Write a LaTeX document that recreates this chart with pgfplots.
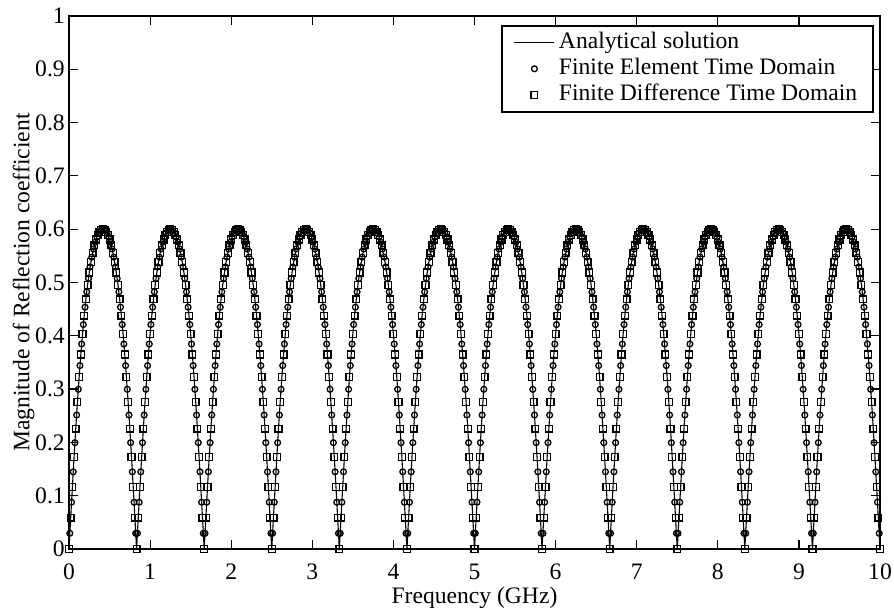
\documentclass[border=0pt]{standalone}
\usepackage{fontspec}
\setmainfont{Liberation Serif}
\usepackage{pgfplots}
\usepackage{pgfplotstable}
\pgfplotsset{compat=1.18}

% Analytical solution / FDTD samples (f in GHz, |Gamma|)
\pgfplotstableread[row sep=\\]{
x y\\
0 0\\ 0.021 0.0587\\ 0.042 0.1165\\ 0.0625 0.1725\\ 0.083 0.2258\\ 0.104 0.2759\\ 0.125 0.3223\\ 0.146 0.3649\\
0.167 0.4034\\ 0.1875 0.4379\\ 0.208 0.4685\\ 0.229 0.4954\\ 0.25 0.5187\\ 0.271 0.5387\\ 0.292 0.5556\\ 0.3125 0.5695\\
0.333 0.5807\\ 0.354 0.5892\\ 0.375 0.5952\\ 0.396 0.5988\\ 0.417 0.6\\ 0.4375 0.5988\\ 0.458 0.5952\\ 0.479 0.5892\\
0.5 0.5807\\ 0.521 0.5695\\ 0.542 0.5556\\ 0.5625 0.5387\\ 0.583 0.5187\\ 0.604 0.4954\\ 0.625 0.4685\\ 0.646 0.4379\\
0.667 0.4034\\ 0.6875 0.3649\\ 0.708 0.3223\\ 0.729 0.2759\\ 0.75 0.2258\\ 0.771 0.1725\\ 0.792 0.1165\\ 0.8125 0.0587\\
0.833 0\\ 0.854 0.0587\\ 0.875 0.1165\\ 0.896 0.1725\\ 0.917 0.2258\\ 0.9375 0.2759\\ 0.958 0.3223\\ 0.979 0.3649\\
1.000 0.4034\\ 1.021 0.4379\\ 1.042 0.4685\\ 1.0625 0.4954\\ 1.083 0.5187\\ 1.104 0.5387\\ 1.125 0.5556\\ 1.146 0.5695\\
1.167 0.5807\\ 1.1875 0.5892\\ 1.208 0.5952\\ 1.229 0.5988\\ 1.25 0.6\\ 1.271 0.5988\\ 1.292 0.5952\\ 1.3125 0.5892\\
1.333 0.5807\\ 1.354 0.5695\\ 1.375 0.5556\\ 1.396 0.5387\\ 1.417 0.5187\\ 1.4375 0.4954\\ 1.458 0.4685\\ 1.479 0.4379\\
1.5 0.4034\\ 1.521 0.3649\\ 1.542 0.3223\\ 1.5625 0.2759\\ 1.583 0.2258\\ 1.604 0.1725\\ 1.625 0.1165\\ 1.646 0.0587\\
1.667 0\\ 1.6875 0.0587\\ 1.708 0.1165\\ 1.729 0.1725\\ 1.75 0.2258\\ 1.771 0.2759\\ 1.792 0.3223\\ 1.8125 0.3649\\
1.833 0.4034\\ 1.854 0.4379\\ 1.875 0.4685\\ 1.896 0.4954\\ 1.917 0.5187\\ 1.9375 0.5387\\ 1.958 0.5556\\ 1.979 0.5695\\
2.000 0.5807\\ 2.021 0.5892\\ 2.042 0.5952\\ 2.0625 0.5988\\ 2.083 0.6\\ 2.104 0.5988\\ 2.125 0.5952\\ 2.146 0.5892\\
2.167 0.5807\\ 2.1875 0.5695\\ 2.208 0.5556\\ 2.229 0.5387\\ 2.25 0.5187\\ 2.271 0.4954\\ 2.292 0.4685\\ 2.3125 0.4379\\
2.333 0.4034\\ 2.354 0.3649\\ 2.375 0.3223\\ 2.396 0.2759\\ 2.417 0.2258\\ 2.4375 0.1725\\ 2.458 0.1165\\ 2.479 0.0587\\
2.5 0\\ 2.521 0.0587\\ 2.542 0.1165\\ 2.5625 0.1725\\ 2.583 0.2258\\ 2.604 0.2759\\ 2.625 0.3223\\ 2.646 0.3649\\
2.667 0.4034\\ 2.6875 0.4379\\ 2.708 0.4685\\ 2.729 0.4954\\ 2.75 0.5187\\ 2.771 0.5387\\ 2.792 0.5556\\ 2.8125 0.5695\\
2.833 0.5807\\ 2.854 0.5892\\ 2.875 0.5952\\ 2.896 0.5988\\ 2.917 0.6\\ 2.9375 0.5988\\ 2.958 0.5952\\ 2.979 0.5892\\
3.000 0.5807\\ 3.021 0.5695\\ 3.042 0.5556\\ 3.0625 0.5387\\ 3.083 0.5187\\ 3.104 0.4954\\ 3.125 0.4685\\ 3.146 0.4379\\
3.167 0.4034\\ 3.1875 0.3649\\ 3.208 0.3223\\ 3.229 0.2759\\ 3.25 0.2258\\ 3.271 0.1725\\ 3.292 0.1165\\ 3.3125 0.0587\\
3.333 0\\ 3.354 0.0587\\ 3.375 0.1165\\ 3.396 0.1725\\ 3.417 0.2258\\ 3.4375 0.2759\\ 3.458 0.3223\\ 3.479 0.3649\\
3.5 0.4034\\ 3.521 0.4379\\ 3.542 0.4685\\ 3.5625 0.4954\\ 3.583 0.5187\\ 3.604 0.5387\\ 3.625 0.5556\\ 3.646 0.5695\\
3.667 0.5807\\ 3.6875 0.5892\\ 3.708 0.5952\\ 3.729 0.5988\\ 3.75 0.6\\ 3.771 0.5988\\ 3.792 0.5952\\ 3.8125 0.5892\\
3.833 0.5807\\ 3.854 0.5695\\ 3.875 0.5556\\ 3.896 0.5387\\ 3.917 0.5187\\ 3.9375 0.4954\\ 3.958 0.4685\\ 3.979 0.4379\\
4.000 0.4034\\ 4.021 0.3649\\ 4.042 0.3223\\ 4.0625 0.2759\\ 4.083 0.2258\\ 4.104 0.1725\\ 4.125 0.1165\\ 4.146 0.0587\\
4.167 0\\ 4.1875 0.0587\\ 4.208 0.1165\\ 4.229 0.1725\\ 4.25 0.2258\\ 4.271 0.2759\\ 4.292 0.3223\\ 4.3125 0.3649\\
4.333 0.4034\\ 4.354 0.4379\\ 4.375 0.4685\\ 4.396 0.4954\\ 4.417 0.5187\\ 4.4375 0.5387\\ 4.458 0.5556\\ 4.479 0.5695\\
4.5 0.5807\\ 4.521 0.5892\\ 4.542 0.5952\\ 4.5625 0.5988\\ 4.583 0.6\\ 4.604 0.5988\\ 4.625 0.5952\\ 4.646 0.5892\\
4.667 0.5807\\ 4.6875 0.5695\\ 4.708 0.5556\\ 4.729 0.5387\\ 4.75 0.5187\\ 4.771 0.4954\\ 4.792 0.4685\\ 4.8125 0.4379\\
4.833 0.4034\\ 4.854 0.3649\\ 4.875 0.3223\\ 4.896 0.2759\\ 4.917 0.2258\\ 4.9375 0.1725\\ 4.958 0.1165\\ 4.979 0.0587\\
5 0\\ 5.021 0.0587\\ 5.042 0.1165\\ 5.0625 0.1725\\ 5.083 0.2258\\ 5.104 0.2759\\ 5.125 0.3223\\ 5.146 0.3649\\
5.167 0.4034\\ 5.1875 0.4379\\ 5.208 0.4685\\ 5.229 0.4954\\ 5.25 0.5187\\ 5.271 0.5387\\ 5.292 0.5556\\ 5.3125 0.5695\\
5.333 0.5807\\ 5.354 0.5892\\ 5.375 0.5952\\ 5.396 0.5988\\ 5.417 0.6\\ 5.4375 0.5988\\ 5.458 0.5952\\ 5.479 0.5892\\
5.5 0.5807\\ 5.521 0.5695\\ 5.542 0.5556\\ 5.5625 0.5387\\ 5.583 0.5187\\ 5.604 0.4954\\ 5.625 0.4685\\ 5.646 0.4379\\
5.667 0.4034\\ 5.6875 0.3649\\ 5.708 0.3223\\ 5.729 0.2759\\ 5.75 0.2258\\ 5.771 0.1725\\ 5.792 0.1165\\ 5.8125 0.0587\\
5.833 0\\ 5.854 0.0587\\ 5.875 0.1165\\ 5.896 0.1725\\ 5.917 0.2258\\ 5.9375 0.2759\\ 5.958 0.3223\\ 5.979 0.3649\\
6.000 0.4034\\ 6.021 0.4379\\ 6.042 0.4685\\ 6.0625 0.4954\\ 6.083 0.5187\\ 6.104 0.5387\\ 6.125 0.5556\\ 6.146 0.5695\\
6.167 0.5807\\ 6.1875 0.5892\\ 6.208 0.5952\\ 6.229 0.5988\\ 6.25 0.6\\ 6.271 0.5988\\ 6.292 0.5952\\ 6.3125 0.5892\\
6.333 0.5807\\ 6.354 0.5695\\ 6.375 0.5556\\ 6.396 0.5387\\ 6.417 0.5187\\ 6.4375 0.4954\\ 6.458 0.4685\\ 6.479 0.4379\\
6.5 0.4034\\ 6.521 0.3649\\ 6.542 0.3223\\ 6.5625 0.2759\\ 6.583 0.2258\\ 6.604 0.1725\\ 6.625 0.1165\\ 6.646 0.0587\\
6.667 0\\ 6.6875 0.0587\\ 6.708 0.1165\\ 6.729 0.1725\\ 6.75 0.2258\\ 6.771 0.2759\\ 6.792 0.3223\\ 6.8125 0.3649\\
6.833 0.4034\\ 6.854 0.4379\\ 6.875 0.4685\\ 6.896 0.4954\\ 6.917 0.5187\\ 6.9375 0.5387\\ 6.958 0.5556\\ 6.979 0.5695\\
7.000 0.5807\\ 7.021 0.5892\\ 7.042 0.5952\\ 7.0625 0.5988\\ 7.083 0.6\\ 7.104 0.5988\\ 7.125 0.5952\\ 7.146 0.5892\\
7.167 0.5807\\ 7.1875 0.5695\\ 7.208 0.5556\\ 7.229 0.5387\\ 7.25 0.5187\\ 7.271 0.4954\\ 7.292 0.4685\\ 7.3125 0.4379\\
7.333 0.4034\\ 7.354 0.3649\\ 7.375 0.3223\\ 7.396 0.2759\\ 7.417 0.2258\\ 7.4375 0.1725\\ 7.458 0.1165\\ 7.479 0.0587\\
7.5 0\\ 7.521 0.0587\\ 7.542 0.1165\\ 7.5625 0.1725\\ 7.583 0.2258\\ 7.604 0.2759\\ 7.625 0.3223\\ 7.646 0.3649\\
7.667 0.4034\\ 7.6875 0.4379\\ 7.708 0.4685\\ 7.729 0.4954\\ 7.75 0.5187\\ 7.771 0.5387\\ 7.792 0.5556\\ 7.8125 0.5695\\
7.833 0.5807\\ 7.854 0.5892\\ 7.875 0.5952\\ 7.896 0.5988\\ 7.917 0.6\\ 7.9375 0.5988\\ 7.958 0.5952\\ 7.979 0.5892\\
8.000 0.5807\\ 8.021 0.5695\\ 8.042 0.5556\\ 8.0625 0.5387\\ 8.083 0.5187\\ 8.104 0.4954\\ 8.125 0.4685\\ 8.146 0.4379\\
8.167 0.4034\\ 8.1875 0.3649\\ 8.208 0.3223\\ 8.229 0.2759\\ 8.25 0.2258\\ 8.271 0.1725\\ 8.292 0.1165\\ 8.3125 0.0587\\
8.333 0\\ 8.354 0.0587\\ 8.375 0.1165\\ 8.396 0.1725\\ 8.417 0.2258\\ 8.4375 0.2759\\ 8.458 0.3223\\ 8.479 0.3649\\
8.5 0.4034\\ 8.521 0.4379\\ 8.542 0.4685\\ 8.5625 0.4954\\ 8.583 0.5187\\ 8.604 0.5387\\ 8.625 0.5556\\ 8.646 0.5695\\
8.667 0.5807\\ 8.6875 0.5892\\ 8.708 0.5952\\ 8.729 0.5988\\ 8.75 0.6\\ 8.771 0.5988\\ 8.792 0.5952\\ 8.8125 0.5892\\
8.833 0.5807\\ 8.854 0.5695\\ 8.875 0.5556\\ 8.896 0.5387\\ 8.917 0.5187\\ 8.9375 0.4954\\ 8.958 0.4685\\ 8.979 0.4379\\
9.000 0.4034\\ 9.021 0.3649\\ 9.042 0.3223\\ 9.0625 0.2759\\ 9.083 0.2258\\ 9.104 0.1725\\ 9.125 0.1165\\ 9.146 0.0587\\
9.167 0\\ 9.1875 0.0587\\ 9.208 0.1165\\ 9.229 0.1725\\ 9.25 0.2258\\ 9.271 0.2759\\ 9.292 0.3223\\ 9.3125 0.3649\\
9.333 0.4034\\ 9.354 0.4379\\ 9.375 0.4685\\ 9.396 0.4954\\ 9.417 0.5187\\ 9.4375 0.5387\\ 9.458 0.5556\\ 9.479 0.5695\\
9.5 0.5807\\ 9.521 0.5892\\ 9.542 0.5952\\ 9.5625 0.5988\\ 9.583 0.6\\ 9.604 0.5988\\ 9.625 0.5952\\ 9.646 0.5892\\
9.667 0.5807\\ 9.6875 0.5695\\ 9.708 0.5556\\ 9.729 0.5387\\ 9.75 0.5187\\ 9.771 0.4954\\ 9.792 0.4685\\ 9.8125 0.4379\\
9.833 0.4034\\ 9.854 0.3649\\ 9.875 0.3223\\ 9.896 0.2759\\ 9.917 0.2258\\ 9.9375 0.1725\\ 9.958 0.1165\\ 9.979 0.0587\\
10 0\\
}\sqtab

% FETD samples
\pgfplotstableread[row sep=\\]{
x y\\
0.010 0.0294\\ 0.031 0.0878\\ 0.052 0.1448\\ 0.073 0.1995\\ 0.094 0.2513\\ 0.115 0.2996\\ 0.135 0.3441\\ 0.156 0.3846\\
0.177 0.4211\\ 0.198 0.4537\\ 0.219 0.4824\\ 0.240 0.5075\\ 0.260 0.5291\\ 0.281 0.5476\\ 0.302 0.5629\\ 0.323 0.5755\\
0.344 0.5853\\ 0.365 0.5925\\ 0.385 0.5973\\ 0.406 0.5997\\ 0.427 0.5997\\ 0.448 0.5973\\ 0.469 0.5925\\ 0.490 0.5853\\
0.510 0.5755\\ 0.531 0.5629\\ 0.552 0.5476\\ 0.573 0.5291\\ 0.594 0.5075\\ 0.615 0.4824\\ 0.635 0.4537\\ 0.656 0.4211\\
0.677 0.3846\\ 0.698 0.3441\\ 0.719 0.2996\\ 0.740 0.2513\\ 0.760 0.1995\\ 0.781 0.1448\\ 0.802 0.0878\\ 0.823 0.0294\\
0.844 0.0294\\ 0.865 0.0878\\ 0.885 0.1448\\ 0.906 0.1995\\ 0.927 0.2513\\ 0.948 0.2996\\ 0.969 0.3441\\ 0.990 0.3846\\
1.010 0.4211\\ 1.031 0.4537\\ 1.052 0.4824\\ 1.073 0.5075\\ 1.094 0.5291\\ 1.115 0.5476\\ 1.135 0.5629\\ 1.156 0.5755\\
1.177 0.5853\\ 1.198 0.5925\\ 1.219 0.5973\\ 1.240 0.5997\\ 1.260 0.5997\\ 1.281 0.5973\\ 1.302 0.5925\\ 1.323 0.5853\\
1.344 0.5755\\ 1.365 0.5629\\ 1.385 0.5476\\ 1.406 0.5291\\ 1.427 0.5075\\ 1.448 0.4824\\ 1.469 0.4537\\ 1.490 0.4211\\
1.510 0.3846\\ 1.531 0.3441\\ 1.552 0.2996\\ 1.573 0.2513\\ 1.594 0.1995\\ 1.615 0.1448\\ 1.635 0.0878\\ 1.656 0.0294\\
1.677 0.0294\\ 1.698 0.0878\\ 1.719 0.1448\\ 1.740 0.1995\\ 1.760 0.2513\\ 1.781 0.2996\\ 1.802 0.3441\\ 1.823 0.3846\\
1.844 0.4211\\ 1.865 0.4537\\ 1.885 0.4824\\ 1.906 0.5075\\ 1.927 0.5291\\ 1.948 0.5476\\ 1.969 0.5629\\ 1.990 0.5755\\
2.010 0.5853\\ 2.031 0.5925\\ 2.052 0.5973\\ 2.073 0.5997\\ 2.094 0.5997\\ 2.115 0.5973\\ 2.135 0.5925\\ 2.156 0.5853\\
2.177 0.5755\\ 2.198 0.5629\\ 2.219 0.5476\\ 2.240 0.5291\\ 2.260 0.5075\\ 2.281 0.4824\\ 2.302 0.4537\\ 2.323 0.4211\\
2.344 0.3846\\ 2.365 0.3441\\ 2.385 0.2996\\ 2.406 0.2513\\ 2.427 0.1995\\ 2.448 0.1448\\ 2.469 0.0878\\ 2.490 0.0294\\
2.510 0.0294\\ 2.531 0.0878\\ 2.552 0.1448\\ 2.573 0.1995\\ 2.594 0.2513\\ 2.615 0.2996\\ 2.635 0.3441\\ 2.656 0.3846\\
2.677 0.4211\\ 2.698 0.4537\\ 2.719 0.4824\\ 2.740 0.5075\\ 2.760 0.5291\\ 2.781 0.5476\\ 2.802 0.5629\\ 2.823 0.5755\\
2.844 0.5853\\ 2.865 0.5925\\ 2.885 0.5973\\ 2.906 0.5997\\ 2.927 0.5997\\ 2.948 0.5973\\ 2.969 0.5925\\ 2.990 0.5853\\
3.010 0.5755\\ 3.031 0.5629\\ 3.052 0.5476\\ 3.073 0.5291\\ 3.094 0.5075\\ 3.115 0.4824\\ 3.135 0.4537\\ 3.156 0.4211\\
3.177 0.3846\\ 3.198 0.3441\\ 3.219 0.2996\\ 3.240 0.2513\\ 3.260 0.1995\\ 3.281 0.1448\\ 3.302 0.0878\\ 3.323 0.0294\\
3.344 0.0294\\ 3.365 0.0878\\ 3.385 0.1448\\ 3.406 0.1995\\ 3.427 0.2513\\ 3.448 0.2996\\ 3.469 0.3441\\ 3.490 0.3846\\
3.510 0.4211\\ 3.531 0.4537\\ 3.552 0.4824\\ 3.573 0.5075\\ 3.594 0.5291\\ 3.615 0.5476\\ 3.635 0.5629\\ 3.656 0.5755\\
3.677 0.5853\\ 3.698 0.5925\\ 3.719 0.5973\\ 3.740 0.5997\\ 3.760 0.5997\\ 3.781 0.5973\\ 3.802 0.5925\\ 3.823 0.5853\\
3.844 0.5755\\ 3.865 0.5629\\ 3.885 0.5476\\ 3.906 0.5291\\ 3.927 0.5075\\ 3.948 0.4824\\ 3.969 0.4537\\ 3.990 0.4211\\
4.010 0.3846\\ 4.031 0.3441\\ 4.052 0.2996\\ 4.073 0.2513\\ 4.094 0.1995\\ 4.115 0.1448\\ 4.135 0.0878\\ 4.156 0.0294\\
4.177 0.0294\\ 4.198 0.0878\\ 4.219 0.1448\\ 4.240 0.1995\\ 4.260 0.2513\\ 4.281 0.2996\\ 4.302 0.3441\\ 4.323 0.3846\\
4.344 0.4211\\ 4.365 0.4537\\ 4.385 0.4824\\ 4.406 0.5075\\ 4.427 0.5291\\ 4.448 0.5476\\ 4.469 0.5629\\ 4.490 0.5755\\
4.510 0.5853\\ 4.531 0.5925\\ 4.552 0.5973\\ 4.573 0.5997\\ 4.594 0.5997\\ 4.615 0.5973\\ 4.635 0.5925\\ 4.656 0.5853\\
4.677 0.5755\\ 4.698 0.5629\\ 4.719 0.5476\\ 4.740 0.5291\\ 4.760 0.5075\\ 4.781 0.4824\\ 4.802 0.4537\\ 4.823 0.4211\\
4.844 0.3846\\ 4.865 0.3441\\ 4.885 0.2996\\ 4.906 0.2513\\ 4.927 0.1995\\ 4.948 0.1448\\ 4.969 0.0878\\ 4.990 0.0294\\
5.010 0.0294\\ 5.031 0.0878\\ 5.052 0.1448\\ 5.073 0.1995\\ 5.094 0.2513\\ 5.115 0.2996\\ 5.135 0.3441\\ 5.156 0.3846\\
5.177 0.4211\\ 5.198 0.4537\\ 5.219 0.4824\\ 5.240 0.5075\\ 5.260 0.5291\\ 5.281 0.5476\\ 5.302 0.5629\\ 5.323 0.5755\\
5.344 0.5853\\ 5.365 0.5925\\ 5.385 0.5973\\ 5.406 0.5997\\ 5.427 0.5997\\ 5.448 0.5973\\ 5.469 0.5925\\ 5.490 0.5853\\
5.510 0.5755\\ 5.531 0.5629\\ 5.552 0.5476\\ 5.573 0.5291\\ 5.594 0.5075\\ 5.615 0.4824\\ 5.635 0.4537\\ 5.656 0.4211\\
5.677 0.3846\\ 5.698 0.3441\\ 5.719 0.2996\\ 5.740 0.2513\\ 5.760 0.1995\\ 5.781 0.1448\\ 5.802 0.0878\\ 5.823 0.0294\\
5.844 0.0294\\ 5.865 0.0878\\ 5.885 0.1448\\ 5.906 0.1995\\ 5.927 0.2513\\ 5.948 0.2996\\ 5.969 0.3441\\ 5.990 0.3846\\
6.010 0.4211\\ 6.031 0.4537\\ 6.052 0.4824\\ 6.073 0.5075\\ 6.094 0.5291\\ 6.115 0.5476\\ 6.135 0.5629\\ 6.156 0.5755\\
6.177 0.5853\\ 6.198 0.5925\\ 6.219 0.5973\\ 6.240 0.5997\\ 6.260 0.5997\\ 6.281 0.5973\\ 6.302 0.5925\\ 6.323 0.5853\\
6.344 0.5755\\ 6.365 0.5629\\ 6.385 0.5476\\ 6.406 0.5291\\ 6.427 0.5075\\ 6.448 0.4824\\ 6.469 0.4537\\ 6.490 0.4211\\
6.510 0.3846\\ 6.531 0.3441\\ 6.552 0.2996\\ 6.573 0.2513\\ 6.594 0.1995\\ 6.615 0.1448\\ 6.635 0.0878\\ 6.656 0.0294\\
6.677 0.0294\\ 6.698 0.0878\\ 6.719 0.1448\\ 6.740 0.1995\\ 6.760 0.2513\\ 6.781 0.2996\\ 6.802 0.3441\\ 6.823 0.3846\\
6.844 0.4211\\ 6.865 0.4537\\ 6.885 0.4824\\ 6.906 0.5075\\ 6.927 0.5291\\ 6.948 0.5476\\ 6.969 0.5629\\ 6.990 0.5755\\
7.010 0.5853\\ 7.031 0.5925\\ 7.052 0.5973\\ 7.073 0.5997\\ 7.094 0.5997\\ 7.115 0.5973\\ 7.135 0.5925\\ 7.156 0.5853\\
7.177 0.5755\\ 7.198 0.5629\\ 7.219 0.5476\\ 7.240 0.5291\\ 7.260 0.5075\\ 7.281 0.4824\\ 7.302 0.4537\\ 7.323 0.4211\\
7.344 0.3846\\ 7.365 0.3441\\ 7.385 0.2996\\ 7.406 0.2513\\ 7.427 0.1995\\ 7.448 0.1448\\ 7.469 0.0878\\ 7.490 0.0294\\
7.510 0.0294\\ 7.531 0.0878\\ 7.552 0.1448\\ 7.573 0.1995\\ 7.594 0.2513\\ 7.615 0.2996\\ 7.635 0.3441\\ 7.656 0.3846\\
7.677 0.4211\\ 7.698 0.4537\\ 7.719 0.4824\\ 7.740 0.5075\\ 7.760 0.5291\\ 7.781 0.5476\\ 7.802 0.5629\\ 7.823 0.5755\\
7.844 0.5853\\ 7.865 0.5925\\ 7.885 0.5973\\ 7.906 0.5997\\ 7.927 0.5997\\ 7.948 0.5973\\ 7.969 0.5925\\ 7.990 0.5853\\
8.010 0.5755\\ 8.031 0.5629\\ 8.052 0.5476\\ 8.073 0.5291\\ 8.094 0.5075\\ 8.115 0.4824\\ 8.135 0.4537\\ 8.156 0.4211\\
8.177 0.3846\\ 8.198 0.3441\\ 8.219 0.2996\\ 8.240 0.2513\\ 8.260 0.1995\\ 8.281 0.1448\\ 8.302 0.0878\\ 8.323 0.0294\\
8.344 0.0294\\ 8.365 0.0878\\ 8.385 0.1448\\ 8.406 0.1995\\ 8.427 0.2513\\ 8.448 0.2996\\ 8.469 0.3441\\ 8.490 0.3846\\
8.510 0.4211\\ 8.531 0.4537\\ 8.552 0.4824\\ 8.573 0.5075\\ 8.594 0.5291\\ 8.615 0.5476\\ 8.635 0.5629\\ 8.656 0.5755\\
8.677 0.5853\\ 8.698 0.5925\\ 8.719 0.5973\\ 8.740 0.5997\\ 8.760 0.5997\\ 8.781 0.5973\\ 8.802 0.5925\\ 8.823 0.5853\\
8.844 0.5755\\ 8.865 0.5629\\ 8.885 0.5476\\ 8.906 0.5291\\ 8.927 0.5075\\ 8.948 0.4824\\ 8.969 0.4537\\ 8.990 0.4211\\
9.010 0.3846\\ 9.031 0.3441\\ 9.052 0.2996\\ 9.073 0.2513\\ 9.094 0.1995\\ 9.115 0.1448\\ 9.135 0.0878\\ 9.156 0.0294\\
9.177 0.0294\\ 9.198 0.0878\\ 9.219 0.1448\\ 9.240 0.1995\\ 9.260 0.2513\\ 9.281 0.2996\\ 9.302 0.3441\\ 9.323 0.3846\\
9.344 0.4211\\ 9.365 0.4537\\ 9.385 0.4824\\ 9.406 0.5075\\ 9.427 0.5291\\ 9.448 0.5476\\ 9.469 0.5629\\ 9.490 0.5755\\
9.510 0.5853\\ 9.531 0.5925\\ 9.552 0.5973\\ 9.573 0.5997\\ 9.594 0.5997\\ 9.615 0.5973\\ 9.635 0.5925\\ 9.656 0.5853\\
9.677 0.5755\\ 9.698 0.5629\\ 9.719 0.5476\\ 9.740 0.5291\\ 9.760 0.5075\\ 9.781 0.4824\\ 9.802 0.4537\\ 9.823 0.4211\\
9.844 0.3846\\ 9.865 0.3441\\ 9.885 0.2996\\ 9.906 0.2513\\ 9.927 0.1995\\ 9.948 0.1448\\ 9.969 0.0878\\ 9.990 0.0294\\
}\cirtab

\begin{document}
\fontsize{11.8pt}{14pt}\selectfont
\begin{tikzpicture}
\useasboundingbox (-34.5pt,-32.5pt) rectangle (412.5pt,274.5pt);
\begin{axis}[
  scale only axis, width=405.5pt, height=266.5pt,
  at={(0,0)}, anchor=south west,
  xmin=0, xmax=10, ymin=0, ymax=1,
  xtick={0,1,2,3,4,5,6,7,8,9,10},
  xticklabels={0,1,2,3,4,5,6,7,8,9,10},
  ytick={0,0.1,0.2,0.3,0.4,0.5,0.6,0.7,0.8,0.9,1},
  yticklabels={0,0.1,0.2,0.3,0.4,0.5,0.6,0.7,0.8,0.9,1},
  yticklabel style={xshift=2pt},
  xticklabel style={yshift=-3.5pt},
  tick align=inside, major tick length=4.5pt,
  axis line style={line width=0.9pt},
  every tick/.style={line width=0.6pt, black},
  xlabel={Frequency (GHz)},
  ylabel={Magnitude of Reflection coefficient},
  xlabel style={at={(axis description cs:0.5,-0.092)}, anchor=center},
  ylabel style={at={(axis description cs:-0.056,0.5)}, anchor=center},
  legend cell align=left,
  legend style={at={(1,1)}, anchor=north east, xshift=-3pt, yshift=-4.5pt,
    draw=black, line width=0.8pt, inner xsep=6pt, inner ysep=2pt,
    nodes={inner ysep=1pt, text height=8.5pt, text depth=2.5pt}},
  legend image code/.code={\draw[mark repeat=2,mark phase=2,#1] plot coordinates {(0pt,0pt)(10pt,0pt)(20pt,0pt)};},
]
\addplot[black, line width=0.55pt, mark=none] table[x=x,y=y]{\sqtab};
\addlegendentry{Analytical solution}
\addplot[black, only marks, mark=o, mark size=1.45pt, mark options={line width=0.65pt}] table[x=x,y=y]{\cirtab};
\addlegendentry{Finite Element Time Domain}
\addplot[black, only marks, mark=square, mark size=1.7pt, mark options={line width=0.65pt}] table[x=x,y=y]{\sqtab};
\addlegendentry{Finite Difference Time Domain}
\end{axis}
\end{tikzpicture}
\end{document}
